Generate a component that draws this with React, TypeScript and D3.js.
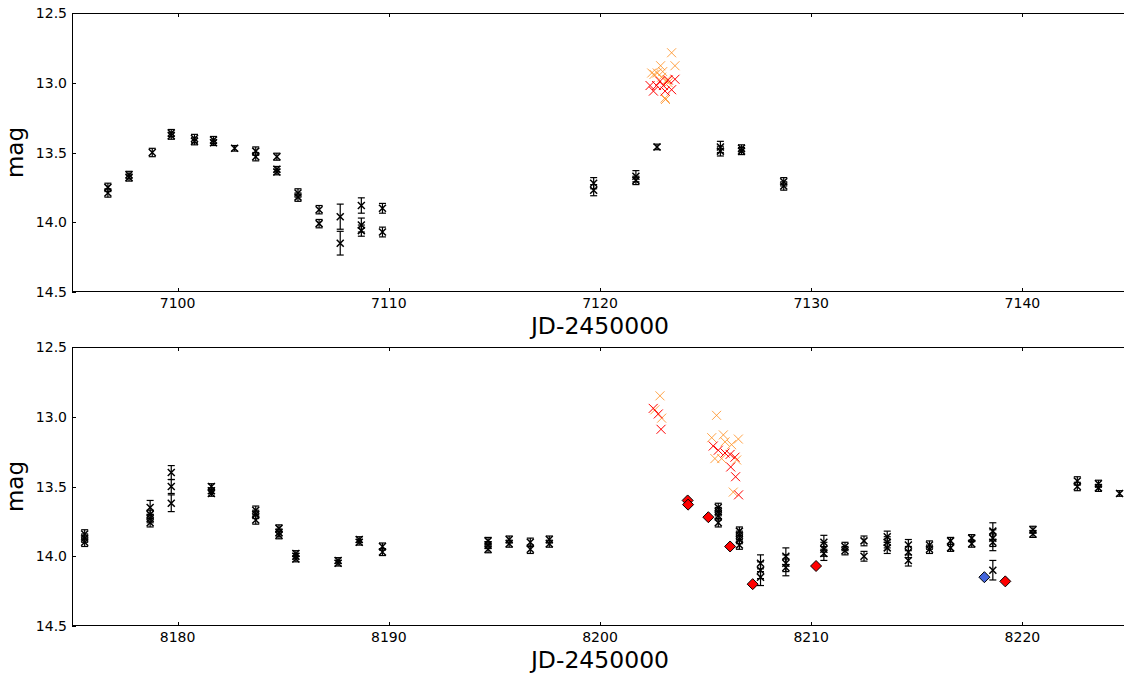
import React from "react";
import * as d3 from "d3";

// Light curve: black = photometry with error bars, orange/red = individual
// frames (two filters), diamonds = additional epochs.

type EP = [number, number, number]; // [jd, mag, err]
type P = [number, number]; // [jd, mag]

const topErrorPoints: EP[] = [
  [7096.7, 13.75, 0.03], [7096.7, 13.79, 0.03],
  [7097.7, 13.66, 0.025], [7097.7, 13.68, 0.025],
  [7098.8, 13.5, 0.03],
  [7099.7, 13.36, 0.025], [7099.7, 13.38, 0.025],
  [7100.8, 13.4, 0.03], [7100.8, 13.42, 0.025],
  [7101.7, 13.41, 0.025], [7101.7, 13.43, 0.02],
  [7102.7, 13.47, 0.02],
  [7103.7, 13.49, 0.03], [7103.7, 13.53, 0.03],
  [7104.7, 13.53, 0.025], [7104.7, 13.62, 0.02], [7104.7, 13.64, 0.02],
  [7105.7, 13.79, 0.03], [7105.7, 13.82, 0.03],
  [7106.7, 13.91, 0.03], [7106.7, 14.01, 0.03],
  [7107.7, 13.96, 0.09], [7107.7, 14.15, 0.085],
  [7108.7, 13.88, 0.055], [7108.7, 14.02, 0.05], [7108.7, 14.06, 0.04],
  [7109.7, 13.9, 0.035], [7109.7, 14.07, 0.035],
  [7119.7, 13.72, 0.04], [7119.7, 13.77, 0.04],
  [7121.7, 13.67, 0.04], [7121.7, 13.7, 0.03],
  [7122.7, 13.46, 0.02],
  [7125.7, 13.46, 0.04], [7125.7, 13.49, 0.035],
  [7126.7, 13.47, 0.025], [7126.7, 13.49, 0.025],
  [7128.7, 13.71, 0.03], [7128.7, 13.74, 0.03],
];

const topOrange: P[] = [
  [7123.39, 12.785], [7123.55, 12.878], [7122.87, 12.878], [7122.45, 12.93],
  [7122.71, 12.93], [7122.97, 12.92], [7123.16, 12.98], [7123.23, 13.0],
  [7123.08, 13.11], [7123.1, 13.12], [7122.92, 12.96], [7122.56, 12.94],
];

const topRed: P[] = [
  [7123.55, 12.975], [7122.37, 13.02], [7122.53, 13.06], [7122.84, 12.99],
  [7123.0, 13.02], [7123.39, 13.05], [7123.08, 13.06], [7122.68, 13.02],
  [7123.23, 12.98],
];

const bottomErrorPoints: EP[] = [
  [8175.6, 13.84, 0.03], [8175.6, 13.87, 0.03], [8175.6, 13.9, 0.03],
  [8178.7, 13.65, 0.05], [8178.7, 13.7, 0.03], [8178.7, 13.73, 0.03], [8178.7, 13.76, 0.03],
  [8179.7, 13.4, 0.05], [8179.7, 13.5, 0.05], [8179.7, 13.62, 0.06],
  [8181.6, 13.5, 0.02], [8181.6, 13.53, 0.02], [8181.6, 13.55, 0.02],
  [8183.7, 13.67, 0.03], [8183.7, 13.7, 0.03], [8183.7, 13.74, 0.03],
  [8184.8, 13.8, 0.025], [8184.8, 13.83, 0.025], [8184.8, 13.85, 0.025],
  [8185.6, 13.98, 0.02], [8185.6, 14.0, 0.02], [8185.6, 14.02, 0.02],
  [8187.6, 14.03, 0.02], [8187.6, 14.05, 0.02],
  [8188.6, 13.88, 0.02], [8188.6, 13.9, 0.02],
  [8189.7, 13.93, 0.025], [8189.7, 13.97, 0.025],
  [8194.7, 13.89, 0.025], [8194.7, 13.92, 0.025], [8194.7, 13.95, 0.025],
  [8195.7, 13.88, 0.025], [8195.7, 13.91, 0.025],
  [8196.7, 13.9, 0.03], [8196.7, 13.95, 0.03],
  [8197.6, 13.88, 0.025], [8197.6, 13.91, 0.025],
  [8205.6, 13.65, 0.03], [8205.6, 13.68, 0.03], [8205.6, 13.71, 0.03], [8205.6, 13.76, 0.03],
  [8206.6, 13.82, 0.03], [8206.6, 13.85, 0.03], [8206.6, 13.88, 0.03], [8206.6, 13.92, 0.03],
  [8207.6, 14.05, 0.06], [8207.6, 14.1, 0.06], [8207.6, 14.15, 0.06],
  [8208.8, 14.0, 0.06], [8208.8, 14.05, 0.06], [8208.8, 14.08, 0.06],
  [8210.6, 13.9, 0.05], [8210.6, 13.95, 0.05], [8210.6, 13.98, 0.05],
  [8211.6, 13.93, 0.03], [8211.6, 13.96, 0.03],
  [8212.5, 13.89, 0.035], [8212.5, 14.0, 0.035],
  [8213.6, 13.86, 0.04], [8213.6, 13.9, 0.04], [8213.6, 13.94, 0.04],
  [8214.6, 13.92, 0.04], [8214.6, 13.97, 0.04], [8214.6, 14.03, 0.04],
  [8215.6, 13.92, 0.03], [8215.6, 13.95, 0.03],
  [8216.6, 13.89, 0.025], [8216.6, 13.94, 0.025],
  [8217.6, 13.87, 0.025], [8217.6, 13.91, 0.025],
  [8218.6, 13.82, 0.06], [8218.6, 13.87, 0.06], [8218.6, 13.9, 0.06], [8218.6, 14.1, 0.07],
  [8220.5, 13.81, 0.025], [8220.5, 13.84, 0.025],
  [8222.6, 13.46, 0.03], [8222.6, 13.5, 0.03],
  [8223.6, 13.48, 0.025], [8223.6, 13.51, 0.025],
  [8224.6, 13.55, 0.02],
];

const bottomOrange: P[] = [
  [8202.84, 12.85], [8202.6, 12.95], [8202.92, 13.01], [8205.52, 12.99],
  [8205.29, 13.15], [8205.84, 13.13], [8205.92, 13.18], [8206.55, 13.16],
  [8205.44, 13.3], [8205.76, 13.3], [8206.47, 13.31], [8206.31, 13.54],
  [8206.23, 13.2],
];

const bottomRed: P[] = [
  [8202.52, 12.94], [8202.76, 12.98], [8202.89, 13.09], [8205.36, 13.21],
  [8205.6, 13.24], [8205.92, 13.26], [8206.16, 13.27], [8206.39, 13.29],
  [8206.19, 13.36], [8206.42, 13.43], [8206.56, 13.56],
];

const bottomRedDiamonds: P[] = [
  [8204.15, 13.6], [8204.17, 13.63], [8205.13, 13.72], [8206.16, 13.93],
  [8207.23, 14.2], [8210.23, 14.07], [8219.19, 14.18],
];

const bottomBlueDiamonds: P[] = [[8218.2, 14.15]];

const topXTicks = [7100, 7110, 7120, 7130, 7140];
const bottomXTicks = [8180, 8190, 8200, 8210, 8220];
const yTicks = [12.5, 13.0, 13.5, 14.0, 14.5];

const W = 1124;
const H = 675;
const X0 = 72;
const X1 = 1128;
const FONT = "DejaVu Sans, sans-serif";

interface PanelProps {
  top: number;
  bottom: number;
  xDomain: [number, number];
  xTicks: number[];
  errPts: EP[];
  orange: P[];
  red: P[];
  redDiamonds?: P[];
  blueDiamonds?: P[];
  clipId: string;
}

function Cross({ cx, cy, r, color, opacity, width }: { cx: number; cy: number; r: number; color: string; opacity?: number; width?: number }) {
  return (
    <path
      d={`M${cx - r},${cy - r}L${cx + r},${cy + r}M${cx - r},${cy + r}L${cx + r},${cy - r}`}
      stroke={color}
      strokeWidth={width ?? 1}
      strokeOpacity={opacity ?? 1}
      fill="none"
    />
  );
}

function Diamond({ cx, cy, color }: { cx: number; cy: number; color: string }) {
  const r = 5.5;
  return (
    <path
      d={`M${cx},${cy - r}L${cx + r},${cy}L${cx},${cy + r}L${cx - r},${cy}Z`}
      fill={color}
      stroke="#000"
      strokeWidth={1}
    />
  );
}

function Panel(p: PanelProps) {
  const x = d3.scaleLinear().domain(p.xDomain).range([X0, X1]);
  const y = d3.scaleLinear().domain([12.5, 14.5]).range([p.top, p.bottom]);
  const tl = 4;
  const cap = 3.5;
  const mr = 3.5;
  return (
    <g>
      <defs>
        <clipPath id={p.clipId}>
          <rect x={X0} y={p.top} width={X1 - X0} height={p.bottom - p.top} />
        </clipPath>
      </defs>
      <g clipPath={`url(#${p.clipId})`}>
        {p.errPts.map(([jd, m, e], i) => {
          const cx = x(jd);
          const y1 = y(m - e);
          const y2 = y(m + e);
          const cy = y(m);
          return (
            <g key={i} stroke="#000" strokeWidth={1.2} fill="none">
              <line x1={cx} x2={cx} y1={y1} y2={y2} />
              <line x1={cx - cap} x2={cx + cap} y1={y1} y2={y1} />
              <line x1={cx - cap} x2={cx + cap} y1={y2} y2={y2} />
              <Cross cx={cx} cy={cy} r={mr} color="#000" width={1.5} />
            </g>
          );
        })}
        {p.orange.map(([jd, m], i) => (
          <Cross key={"o" + i} cx={x(jd)} cy={y(m)} r={4.5} color="#ff8c1a" opacity={0.8} />
        ))}
        {p.red.map(([jd, m], i) => (
          <Cross key={"r" + i} cx={x(jd)} cy={y(m)} r={4.5} color="#ff0000" />
        ))}
        {(p.redDiamonds ?? []).map(([jd, m], i) => (
          <Diamond key={"rd" + i} cx={x(jd)} cy={y(m)} color="#ff0000" />
        ))}
        {(p.blueDiamonds ?? []).map(([jd, m], i) => (
          <Diamond key={"bd" + i} cx={x(jd)} cy={y(m)} color="#4466dd" />
        ))}
      </g>
      {/* frame */}
      <rect
        x={X0 + 0.5}
        y={p.top + 0.5}
        width={X1 - X0 - 1}
        height={p.bottom - p.top - 1}
        fill="none"
        stroke="#000"
        strokeWidth={1}
      />
      {/* x ticks (inward, top and bottom) */}
      {p.xTicks.map((t) => {
        const tx = Math.round(x(t)) + 0.5;
        return (
          <g key={t}>
            <line x1={tx} x2={tx} y1={p.bottom} y2={p.bottom - tl} stroke="#000" />
            <line x1={tx} x2={tx} y1={p.top} y2={p.top + tl} stroke="#000" />
            <text x={x(t)} y={p.bottom + 16} textAnchor="middle" fontFamily={FONT} fontSize={14} fill="#000">
              {t}
            </text>
          </g>
        );
      })}
      {/* y ticks (inward, left and right) */}
      {yTicks.map((t) => {
        const ty = Math.round(y(t)) + 0.5;
        return (
          <g key={t}>
            <line x1={X0} x2={X0 + tl} y1={ty} y2={ty} stroke="#000" />
            <line x1={X1} x2={X1 - tl} y1={ty} y2={ty} stroke="#000" />
            <text x={67} y={y(t) + 5} textAnchor="end" fontFamily={FONT} fontSize={14} fill="#000">
              {t.toFixed(1)}
            </text>
          </g>
        );
      })}
      <text
        transform={`translate(23,${(p.top + p.bottom) / 2}) rotate(-90)`}
        textAnchor="middle"
        fontFamily={FONT}
        fontSize={23}
        fill="#000"
      >
        mag
      </text>
      <text
        x={(X0 + X1) / 2}
        y={p.bottom + 42}
        textAnchor="middle"
        fontFamily={FONT}
        fontSize={23.5}
        fill="#000"
      >
        JD-2450000
      </text>
    </g>
  );
}

export default function App() {
  return (
    <svg
      width={W}
      height={H}
      viewBox={`0 0 ${W} ${H}`}
      style={{ position: "absolute", left: 0, top: 0, background: "#fff" }}
    >
      <rect width={W} height={H} fill="#fff" />
      <Panel
        top={13}
        bottom={292}
        xDomain={[7095, 7145]}
        xTicks={topXTicks}
        errPts={topErrorPoints}
        orange={topOrange}
        red={topRed}
        clipId="clip-top"
      />
      <Panel
        top={347}
        bottom={626}
        xDomain={[8175, 8225]}
        xTicks={bottomXTicks}
        errPts={bottomErrorPoints}
        orange={bottomOrange}
        red={bottomRed}
        redDiamonds={bottomRedDiamonds}
        blueDiamonds={bottomBlueDiamonds}
        clipId="clip-bottom"
      />
    </svg>
  );
}
